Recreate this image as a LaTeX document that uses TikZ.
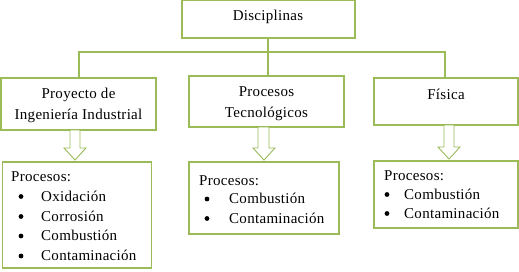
\documentclass[tikz,border=0pt]{standalone}
\usepackage{fontspec}
\setmainfont[LetterSpace=2]{Liberation Serif}
\definecolor{olive}{RGB}{155,187,89}
\begin{document}
\begin{tikzpicture}[x=1pt,y=-1pt,
  box/.style={draw=olive,line width=1.2pt,inner sep=0pt,fill=white},
  conn/.style={draw=olive,line width=1.2pt},
  barrow/.style={draw=olive,line width=0.9pt,fill=white},
  txt/.style={font=\rmfamily\fontsize{15}{17}\selectfont,inner sep=0pt},
  lt/.style={txt,anchor=base west},
  bul/.style={circle,fill=black,inner sep=0pt,minimum size=4.8pt}]
\useasboundingbox (0,0) rectangle (519,271);
% top box
\node[box,minimum width=173pt,minimum height=38pt] (top) at (268.5,19) {};
\node[txt,anchor=base] (ttop) at (268,20) {Disciplinas};
% level boxes
\node[box,minimum width=155pt,minimum height=52pt] (b1) at (78.5,104) {};
\node[txt,anchor=base] (t1a) at (78.5,98) {Proyecto de};
\node[txt,anchor=base] (t1b) at (78.5,119) {Ingeniería Industrial};
\node[box,minimum width=155pt,minimum height=51pt] (b2) at (266.5,101.5) {};
\node[txt,anchor=base] (t2a) at (266.5,96) {Procesos};
\node[txt,anchor=base] (t2b) at (266.5,117) {Tecnológicos};
\node[box,minimum width=144pt,minimum height=47pt] (b3) at (446,101.5) {};
\node[txt,anchor=base] (t3) at (446,99) {Física};
% connectors
\coordinate (j) at (268,52);
\draw[conn] (top.south -| j) -- (b2.north -| j);
\draw[conn] (b1.north -| 79,0) |- (j) -| (b3.north -| 445,0);
% block arrows
\path[barrow] (70,130) -- (80,130) -- (80,148) -- (86,148) -- (75,160) -- (64,148) -- (70,148) -- cycle;
\path[barrow] (258,127) -- (269,127) -- (269,148) -- (275,148) -- (264,160) -- (253,148) -- (258,148) -- cycle;
\path[barrow] (444,125) -- (454,125) -- (454,147) -- (460,147) -- (449,159) -- (438,147) -- (444,147) -- cycle;
% list boxes
\node[box,minimum width=149pt,minimum height=106pt] (l1) at (77,215) {};
\node[lt] (p1) at (11,181.5) {Procesos:};
\node[bul] (u11) at (21,196.5) {}; \node[lt] (i11) at (41,201) {Oxidación};
\node[bul] (u12) at (21,216.5) {}; \node[lt] (i12) at (41,221) {Corrosión};
\node[bul] (u13) at (21,236) {}; \node[lt] (i13) at (41,240.5) {Combustión};
\node[bul] (u14) at (21,256) {}; \node[lt] (i14) at (41,260.5) {Contaminación};
\node[box,minimum width=150pt,minimum height=72pt] (l2) at (264,198) {};
\node[lt] (p2) at (199,185) {Procesos:};
\node[bul] (u21) at (207,199) {}; \node[lt] (i21) at (229,203.5) {Combustión};
\node[bul] (u22) at (207,218.5) {}; \node[lt] (i22) at (229,223) {Contaminación};
\node[box,minimum width=144pt,minimum height=67pt] (l3) at (446,194.5) {};
\node[lt] (p3) at (384,180.5) {Procesos:};
\node[bul] (u31) at (387,194.5) {}; \node[lt] (i31) at (404,199) {Combustión};
\node[bul] (u32) at (387,213.5) {}; \node[lt] (i32) at (404,218) {Contaminación};
\end{tikzpicture}
\end{document}
